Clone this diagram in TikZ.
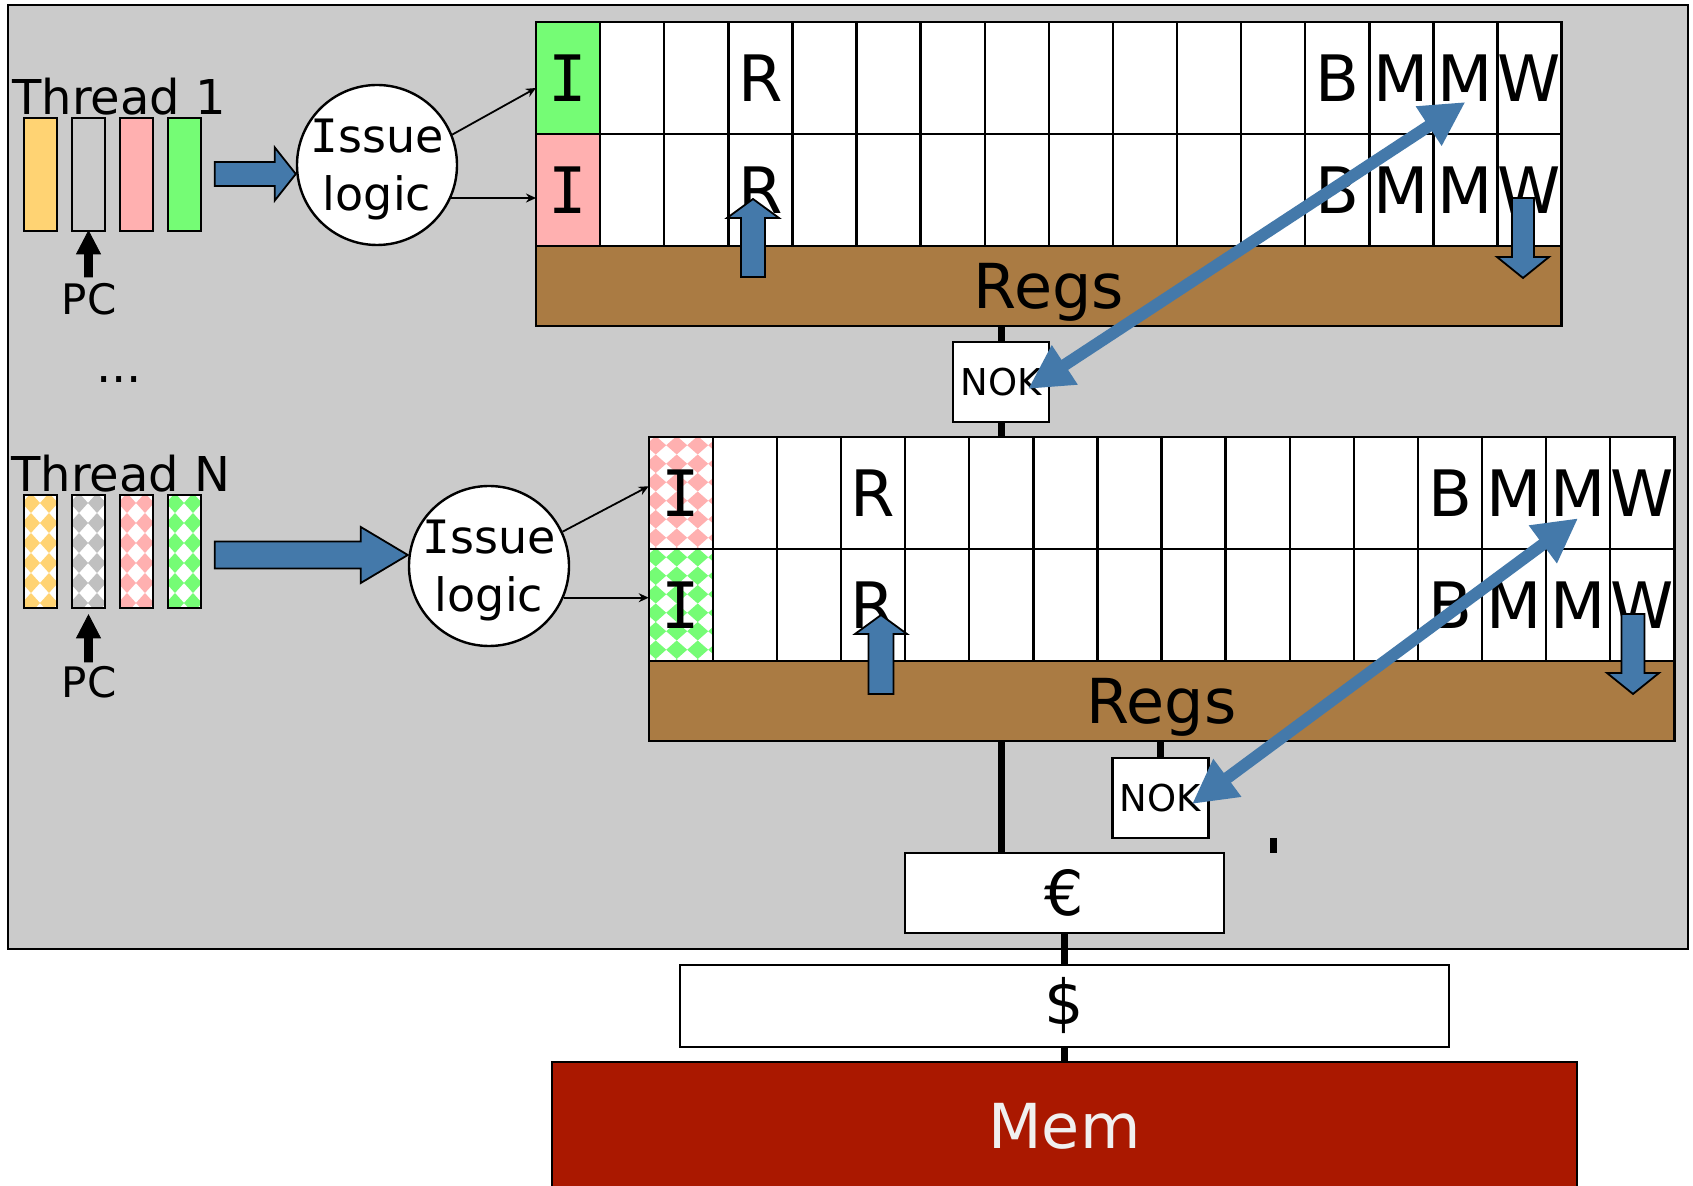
\documentclass[tikz,border=0pt]{standalone}
\usepackage{fontspec}
\setmainfont{DejaVu Sans}
\newfontfamily\slabfont{DejaVu Sans Mono}
\usetikzlibrary{arrows.meta,calc,positioning}

\definecolor{bggray}{RGB}{203,203,203}
\definecolor{regbrown}{RGB}{170,123,67}
\definecolor{arrblue}{RGB}{68,121,170}
\definecolor{memred}{RGB}{170,24,0}
\definecolor{memtext}{RGB}{240,240,240}
\definecolor{thorange}{RGB}{255,211,115}
\definecolor{thpink}{RGB}{255,176,176}
\definecolor{thgreen}{RGB}{117,252,117}
\definecolor{thgray}{RGB}{192,192,192}

% capital I with serifs
\newcommand{\slabI}{{\slabfont I}}

% fat arrow: [style] tip, angle, length, head length, head half width, shaft half width
\newcommand{\fatarrow}[7][regarrow]{%
  \begin{scope}[shift={#2},rotate=#3]
    \draw[#1] (0,0) -- (-#5,#6) -- (-#5,#7) -- (-#4,#7) -- (-#4,-#7) -- (-#5,-#7) -- (-#5,-#6) -- cycle;
  \end{scope}}

% diamond pattern inside a node: colour, x period, y period
\newcommand{\checkpat}[3]{%
  \fill[white] (path picture bounding box.south west) rectangle (path picture bounding box.north east);
  \foreach \jj in {0,...,7} \foreach \ii in {0,...,4}
    \fill[#1] ($(path picture bounding box.north west)+(7+\ii*#2,8+\jj*#3)$)
      +(-#2/2,0) -- +(0,#3/2) -- +(#2/2,0) -- +(0,-#3/2) -- cycle;}

\begin{document}
\begin{tikzpicture}[x=0.5pt, y=-0.5pt,
    cell/.style={draw, line width=1.2pt, fill=white, minimum width=32.05pt, minimum height=56pt,
      inner sep=0pt, outer sep=0pt, font=\fontsize{32}{38}\selectfont},
    regs/.style={draw, line width=1.2pt, fill=regbrown, minimum width=512.8pt, minimum height=40pt,
      inner sep=0pt, outer sep=0pt, text depth=0pt, font=\fontsize{31}{37}\selectfont},
    bar/.style={draw, line width=1.2pt, minimum width=16.5pt, minimum height=56.5pt, inner sep=0pt, outer sep=0pt},
    issue/.style={circle, draw, line width=1.2pt, fill=white, minimum size=80pt, inner sep=-4pt,
      align=center, text depth=0pt, font=\fontsize{23}{29}\selectfont},
    plainbox/.style={draw, line width=1.2pt, fill=white, inner sep=0pt, outer sep=0pt},
    lbl/.style={inner sep=0pt},
    feed/.style={line width=0.9pt, -{Stealth[length=5pt,width=4.5pt]}},
    conn/.style={line width=3.5pt},
    regarrow/.style={draw=black, line width=0.9pt, fill=arrblue},
    pcarrow/.style={fill=black},
    dblarrow/.style={draw=arrblue, line width=6pt,
      {Triangle[length=22pt,width=22pt]}-{Triangle[length=22pt,width=22pt]}},
  ]
  \useasboundingbox (0,0) rectangle (1693,1186);

  % core
  \draw[fill=bggray, line width=1.2pt] (8,5) rectangle (1688,949);

  % thread 1
  \node[lbl, anchor=base west, font=\fontsize{24}{29}\selectfont] (thr1) at (12,115) {Thread 1};
  \node[bar, fill=thorange] (th1a) at (40.5,174.5) {};
  \node[bar, fill=bggray, right=7.5pt of th1a] (th1b) {};
  \node[bar, fill=thpink, right=7.5pt of th1b] (th1c) {};
  \node[bar, fill=thgreen, right=7.5pt of th1c] (th1d) {};
  \node[lbl, anchor=base, font=\fontsize{21}{25}\selectfont] (pc1) at (89,315) {PC};
  \fatarrow[pcarrow]{(th1b.south)}{90}{46}{23}{12}{4}

  \node[lbl, anchor=base, font=\fontsize{24}{29}\selectfont] (dots) at (119,383) {...};

  % thread N
  \node[lbl, anchor=base west, font=\fontsize{24}{29}\selectfont] (thrN) at (11,492) {Thread N};
  \node[bar, path picture={\checkpat{thorange}{18}{20}}] (thNa) at (40.5,551.5) {};
  \node[bar, path picture={\checkpat{thgray}{18}{20}}, right=7.5pt of thNa] (thNb) {};
  \node[bar, path picture={\checkpat{thpink}{18}{20}}, right=7.5pt of thNb] (thNc) {};
  \node[bar, path picture={\checkpat{thgreen}{18}{20}}, right=7.5pt of thNc] (thNd) {};
  \node[lbl, anchor=base, font=\fontsize{21}{25}\selectfont] (pcN) at (89,698) {PC};
  \fatarrow[pcarrow]{([yshift=-3.5pt]thNb.south)}{90}{47}{23}{12}{4}

  % issue logic
  \node[issue] (iss1) at (377,165) {\slabI ssue\\logic};
  \node[issue] (iss2) at (489,566) {\slabI ssue\\logic};
  \fatarrow{([yshift=-4.5pt]iss1.west)}{0}{81}{21}{26.5}{12}
  \fatarrow{([yshift=5.5pt]iss2.west)}{0}{193}{47}{28}{13.5}

  % top pipeline
  \node[cell, fill=thgreen] (t1-1) at (568.05,78) {\slabI};
  \node[cell, fill=thpink, below=0pt of t1-1] (t2-1) {\slabI};
  \foreach \lab [count=\c from 2, remember=\c as \p (initially 1)] in {{},{},R,{},{},{},{},{},{},{},{},B,M,M,W} {
    \node[cell, right=0pt of t1-\p] (t1-\c) {\lab};
    \node[cell, right=0pt of t2-\p] (t2-\c) {\lab};
  }
  \node[regs, anchor=north west] (regs1) at (t2-1.south west) {Regs};

  % bottom pipeline
  \node[cell, path picture={\checkpat{thpink}{21}{18.5}}] (b1-1) at (680.75,493.25) {\slabI};
  \node[cell, path picture={\checkpat{thgreen}{21}{18.5}}, below=0pt of b1-1] (b2-1) {\slabI};
  \foreach \lab [count=\c from 2, remember=\c as \p (initially 1)] in {{},{},R,{},{},{},{},{},{},{},{},B,M,M,W} {
    \node[cell, right=0pt of b1-\p] (b1-\c) {\lab};
    \node[cell, right=0pt of b2-\p] (b2-\c) {\lab};
  }
  \node[regs, anchor=north west] (regs2) at (b2-1.south west) {Regs};

  \draw[feed] (iss1.22) -- ([yshift=-5pt]t1-1.west);
  \draw[feed] (iss1.-24) -- (iss1.-24 -| t2-1.west);
  \draw[feed] (iss2.25) -- ([yshift=3.5pt]b1-1.west);
  \draw[feed] (iss2.-23) -- (iss2.-23 -| b2-1.west);

  % register read / write
  \fatarrow{(753,199)}{90}{78}{19}{26}{12}
  \fatarrow{(1523,278)}{-90}{80}{21}{26}{11}
  \fatarrow{(881,615)}{90}{79}{19}{26}{12.5}
  \fatarrow{(1633,694)}{-90}{80}{21}{26}{11.5}

  % memory side
  \node[plainbox, minimum width=48pt, minimum height=40pt, font=\fontsize{18.5}{22}\selectfont] (nok1) at (1001,382) {NOK};
  \node[plainbox, minimum width=48pt, minimum height=40pt, font=\fontsize{18.5}{22}\selectfont] (nok2) at (1160.5,798) {NOK};
  \node[plainbox, minimum width=159.5pt, minimum height=40pt, font=\fontsize{31}{37}\selectfont] (euro) at (1064.5,893) {€};
  \node[plainbox, minimum width=384.5pt, minimum height=41pt, font=\fontsize{31}{37}\selectfont, below=16pt of euro] (dollar) {\$};
  \node[plainbox, fill=memred, text=memtext, minimum width=512.5pt, minimum height=64pt,
    font=\fontsize{31}{37}\selectfont, below=7.5pt of dollar] (mem) {Mem};

  \draw[conn] (nok1.north |- regs1.south) -- (nok1.north);
  \draw[conn] (nok1.south) -- (nok1.south |- b1-1.north);
  \draw[conn] (nok1 |- regs2.south) -- (nok1 |- euro.north);
  \draw[conn] (nok2.north |- regs2.south) -- (nok2.north);
  \draw[conn] (euro.south) -- (dollar.north);
  \draw[conn] (dollar.south) -- (mem.north);
  \draw[conn] (1273,838) -- (1273,853);

  \draw[dblarrow] ([yshift=-12pt]t1-15.center) -- ([xshift=13.5pt,yshift=-3.5pt]nok1.center);
  \draw[dblarrow] ([yshift=-12.5pt]b1-15.center) -- ([xshift=15.75pt,yshift=-3pt]nok2.center);
\end{tikzpicture}
\end{document}
